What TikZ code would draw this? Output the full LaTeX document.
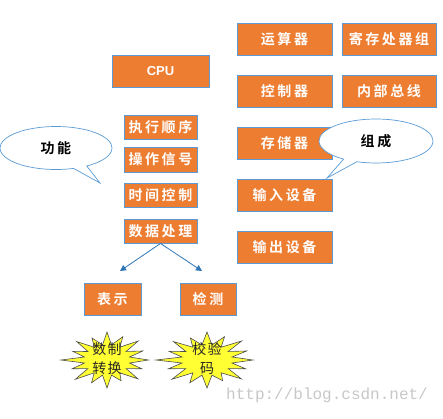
\documentclass[tikz,border=0pt]{standalone}
\usepackage{fontspec}
\newfontfamily\cjk[LetterSpace=18]{Noto Sans CJK SC Bold}
\newfontfamily\cjkk[LetterSpace=10]{Noto Sans CJK SC}
\newfontfamily\cpufont{Liberation Sans}
\newfontfamily\wmfont{Liberation Mono}
\usetikzlibrary{shapes.callouts,arrows.meta}
\definecolor{boxfill}{HTML}{ED7D31}
\definecolor{boxline}{HTML}{5B9BD5}
\definecolor{arrowc}{HTML}{2E75B6}
\definecolor{starfill}{HTML}{FFFF33}
\tikzset{
  obox/.style={draw=boxline, line width=0.9pt, fill=boxfill, text=white,
    font=\cjk\fontsize{14}{16}\selectfont, inner sep=0pt, minimum width=#1},
  obox/.default=73pt,
  callout/.style={ellipse callout, draw=boxline, line width=0.7pt, fill=white,
    font=\cjk\fontsize{14}{16}\selectfont, inner sep=0pt},
  burst/.style={draw=black!70, line width=0.6pt, fill=starfill, line join=miter},
  bursttext/.style={inner sep=0pt, font=\cjkk\fontsize{14}{19}\selectfont, align=center, text=black!85},
  arr/.style={draw=arrowc, line width=0.8pt, -{Triangle[width=6pt,length=6pt]}}
}
\newcommand{\mystar}[3]{% center, rx, ry
  \begin{scope}[shift={#1}]
    \draw[burst] ({#2*0.9},0)
      \foreach \a/\f in {0/0.82,22.5/0.95,45/0.8,67.5/1,90/0.88,112.5/0.97,135/0.82,157.5/1,180/0.8,202.5/0.93,225/0.85,247.5/1,270/0.9,292.5/0.96,315/0.84}
        { -- ({#2*0.5*cos(\a+11.25)},{#3*0.55*sin(\a+11.25)}) -- ({#2*\f*cos(\a+22.5)},{#3*\f*sin(\a+22.5)}) }
      -- ({#2*0.5*cos(348.75)},{#3*0.55*sin(348.75)}) -- cycle;
  \end{scope}}
\begin{document}
\begin{tikzpicture}[x=1pt,y=-1pt]
\useasboundingbox (0,0) rectangle (443,418);
% left column
\node[obox=97pt, minimum height=32pt, font=\cpufont\bfseries\fontsize{13}{15}\selectfont] (cpu) at (160.5,71) {CPU};
\node[obox, minimum height=24pt] (zx) at (160.5,127) {执行顺序};
\node[obox, minimum height=25pt] (cz) at (160.5,159.5) {操作信号};
\node[obox, minimum height=24pt] (sj) at (160.5,195) {时间控制};
\node[obox, minimum height=24pt] (sc) at (160.5,231) {数据处理};
% right columns
\node[obox=95pt, minimum height=32pt] (ys) at (284.5,39) {运算器};
\node[obox=94pt, minimum height=32pt] (jc) at (389,39) {寄存处器组};
\node[obox=95pt, minimum height=32pt] (kz) at (284.5,91) {控制器};
\node[obox=94pt, minimum height=32pt] (nb) at (389,91) {内部总线};
\node[obox=95pt, minimum height=32pt] (cc) at (284.5,143) {存储器};
\node[obox=95pt, minimum height=32pt] (sr) at (284.5,195) {输入设备};
\node[obox=95pt, minimum height=32pt] (sco) at (284.5,247) {输出设备};
% bottom
\node[obox=57pt, minimum height=32pt] (bs) at (112.5,299) {表示};
\node[obox=56pt, minimum height=32pt] (jcc) at (208,299) {检测};
\coordinate (a1) at (120,271);
\coordinate (a2) at (202,271);
\draw[arr] (sc.south) -- (a1);
\draw[arr] (sc.south) -- (a2);
% callouts
\node[callout, minimum width=112pt, minimum height=43pt, callout absolute pointer={(100,183)}] (gn) at (56,148) {功能};
\node[callout, minimum width=114pt, minimum height=44pt, callout absolute pointer={(327,178)}] (zc) at (376,141) {组成};
% starbursts
\mystar{(107,360)}{46}{28}
\mystar{(207,360)}{51}{28}
\node[bursttext] (s1) at (107,359) {数制\\转换};
\node[bursttext] (s2) at (207,359) {校验\\码};
% watermark
\node[anchor=west, inner sep=0pt, text=black!22, font=\wmfont\fontsize{16}{18}\selectfont] (wm) at (226,395) {http://blog.csdn.net/};
\end{tikzpicture}
\end{document}
